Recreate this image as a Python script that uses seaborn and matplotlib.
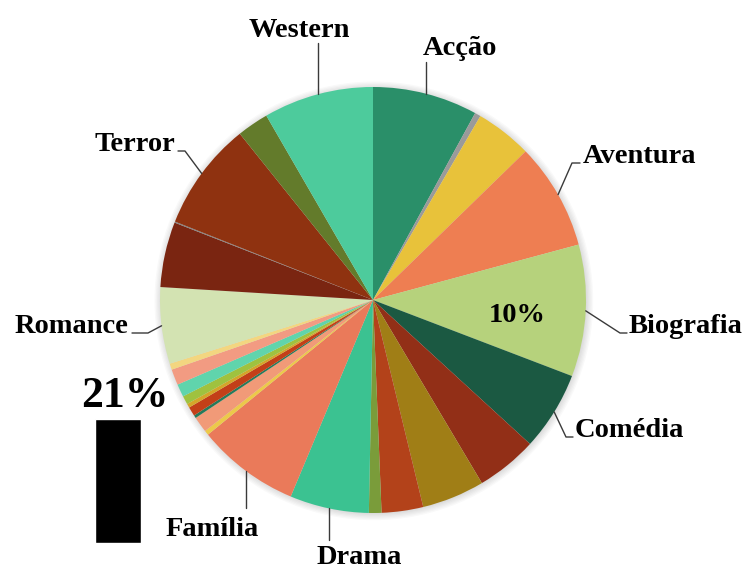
import matplotlib
matplotlib.use("Agg")
import matplotlib.pyplot as plt
from matplotlib.patches import Circle
import numpy as np
import seaborn as sns

# Share of films per genre (percent), clockwise from 12 o'clock
labels = ["Acção", "", "", "Aventura", "Biografia", "Comédia", "", "", "", "",
          "Drama", "Família", "", "", "", "", "", "", "", "", "",
          "Romance", "", "", "Terror", "", "Western"]
values = [7.96, 0.45, 4.3, 8.1, 10.0, 6.0, 4.65, 4.75, 3.15, 0.95,
          6.0, 7.8, 0.35, 1.2, 0.22, 0.7, 0.3, 0.65, 0.97, 1.2, 0.47,
          5.8, 4.95, 0.08, 8.25, 2.4, 8.35]
colors = ["#2a8f69", "#9a9a9a", "#e8c23a", "#ee7e52", "#b6d27c", "#1b5942",
          "#922f17", "#a07e16", "#b3421a", "#7a9c3a", "#3bc291", "#ea7a5a",
          "#ecc94a", "#f19a78", "#257a5a", "#c33f18", "#d4a629", "#9fc23f",
          "#60d4ac", "#f29b82", "#f3d680", "#d3e3b2", "#7a2511", "#808080",
          "#8f3210", "#637b2b", "#4dcb9c"]
pct_label = "Biografia"

bar_value = 21

sns.set_theme(style="white")
plt.rcParams["font.family"] = ["Liberation Serif", "DejaVu Serif"]

W, H = 748, 569
CX, CY, R = 373, 300, 213


def px(x, y):
    """Pixel position -> pie data units (radius = 1)."""
    return (x - CX) / R, (CY - y) / R


fig = plt.figure(figsize=(W / 100, H / 100), dpi=100)
ax = fig.add_axes([0, 0, 1, 1])

# soft halo behind the pie
for r in np.linspace(1.0, 1.03, 6):
    ax.add_patch(Circle((0.004, -0.004), r, color="black", alpha=0.022,
                        lw=0, zorder=0))

wedges, _ = ax.pie(values, colors=colors, startangle=90, counterclock=False,
                   radius=1, wedgeprops=dict(linewidth=0))
for w in wedges:
    w.set_zorder(2)

ax.set_aspect("equal", adjustable="datalim")
ax.set_xlim(-CX / R, (W - CX) / R)
ax.set_ylim(-(H - CY) / R, CY / R)
ax.axis("off")

# leader lines: (elbow, end of line, text anchor, ha) in pixels
layout = {
    "Western":   (None, (316, 43), (299, 37), "center"),
    "Acção":     (None, (424, 62), (460, 55), "center"),
    "Aventura":  ((572, 163), (580, 163), (583, 163), "left"),
    "Biografia": ((620, 333), (627, 333), (629, 333), "left"),
    "Comédia":   ((566, 437), (573, 437), (575, 437), "left"),
    "Drama":     (None, (325, 540), (359, 564), "center"),
    "Família":   (None, (241, 508), (212, 536), "center"),
    "Romance":   ((148, 333), (132, 333), (128, 333), "right"),
    "Terror":    ((185, 151), (178, 151), (175, 151), "right"),
}

font = dict(fontsize=20.5, fontweight="bold", color="black", va="baseline")

for w, lab in zip(wedges, labels):
    if not lab:
        continue
    mid = np.deg2rad((w.theta1 + w.theta2) / 2)
    x0, y0 = np.cos(mid), np.sin(mid)
    elbow, end, tpos, ha = layout[lab]
    ex, ey = px(*end)
    if elbow is None:
        xs, ys = [x0, x0], [y0, ey]
    else:
        bx, by = px(*elbow)
        xs, ys = [x0, bx, ex], [y0, by, ey]
    ax.plot(xs, ys, color="#3a3a3a", lw=1.0, zorder=3)
    tx, ty = px(*tpos)
    ax.text(tx, ty, lab, ha=ha, **font)
    if lab == pct_label:
        val = values[labels.index(lab)]
        ax.text(0.68 * x0, 0.68 * y0 - 0.07, f"{val:.0f}%", ha="center",
                **font)

# small black bar with its value
bax = fig.add_axes([95 / W, (H - 543) / H, 46 / W, 124 / H])
sns.barplot(x=["Total"], y=[bar_value], color="black", width=1.0,
            saturation=1, ax=bax)
bax.set_xlim(-0.5, 0.5)
bax.set_ylim(0, bar_value)
bax.axis("off")
fig.text(125 / W, (H - 407) / H, f"{bar_value}%", ha="center",
         va="baseline", fontsize=31.5, fontweight="bold", color="black")

fig.savefig("out.png", dpi=100)
